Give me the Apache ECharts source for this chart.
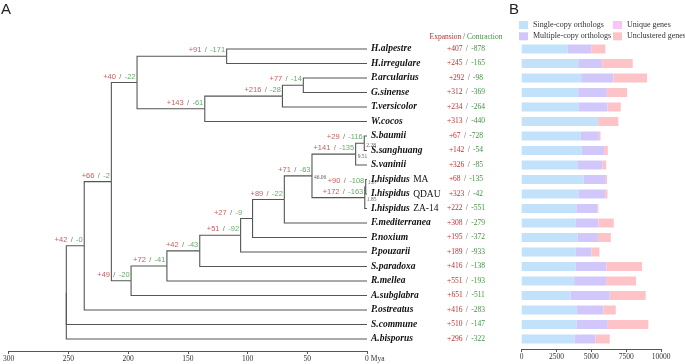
<!DOCTYPE html>
<html>
<head>
<meta charset="utf-8">
<script src="https://cdn.jsdelivr.net/npm/echarts@6/dist/echarts.min.js"></script>
<style>
  html, body { margin: 0; padding: 0; background: #fff; }
  #chart { width: 685px; height: 364px; }
</style>
</head>
<body>
<div id="chart"></div>
<script>
// species, top to bottom
const leafNames = ['H.alpestre', 'H.irregulare', 'P.arcularius', 'G.sinense', 'T.versicolor', 'W.cocos',
  'S.baumii', 'S.sanghuang', 'S.vaninii', 'I.hispidus MA', 'I.hispidus QDAU', 'I.hispidus ZA-14',
  'F.mediterranea', 'P.noxium', 'P.pouzarii', 'S.paradoxa', 'R.mellea', 'A.subglabra',
  'P.ostreatus', 'S.commune', 'A.bisporus'];

// gene family expansion / contraction per species
const expansion = [407, 245, 292, 312, 234, 313, 67, 142, 326, 68, 323, 222, 308, 195, 189, 416, 551, 651, 416, 510, 296];
const contraction = [878, 165, 98, 369, 264, 440, 728, 54, 85, 135, 42, 551, 279, 372, 933, 138, 193, 511, 283, 147, 322];

// gene counts (panel B)
const singleCopy = [3290, 4060, 4270, 4060, 4100, 5490, 4220, 4300, 3990, 4440, 4100, 3940, 3870, 4010, 3890, 3870, 3770, 3510, 3960, 3940, 3790];
const multiCopy = [1700, 1720, 2320, 2050, 2060, 0, 1320, 1620, 1810, 1600, 1890, 1500, 1640, 1460, 1120, 2220, 2290, 2810, 1910, 2240, 1510];
const uniqueGenes = [0, 0, 0, 0, 0, 0, 0, 0, 0, 0, 0, 0, 0, 0, 0, 0, 0, 0, 0, 0, 0];
const unclustered = [1020, 2190, 2410, 1460, 950, 1450, 120, 260, 260, 90, 170, 70, 1100, 930, 570, 2550, 2150, 2580, 880, 2910, 1020];

// time tree: node age in Mya, gain/loss on the branch leading to the node, leaves = index into leafNames
const tree = { age: 251.7, kids: [
  { age: 236.7, gain: 42, loss: 0, kids: [
    { age: 214, gain: 66, loss: 2, kids: [
      { age: 192.5, gain: 40, loss: 22, kids: [
        { age: 117.5, gain: 91, loss: 171, kids: [0, 1] },
        { age: 135.8, gain: 143, loss: 61, kids: [
          { age: 70.8, gain: 216, loss: 28, kids: [
            { age: 53.3, gain: 77, loss: 14, kids: [2, 3] }, 4] },
          5] }] },
      { age: 197.5, gain: 49, loss: 20, kids: [
        { age: 167.5, gain: 72, loss: 41, kids: [
          { age: 140, gain: 42, loss: 43, kids: [
            { age: 105.8, gain: 51, loss: 92, kids: [
              { age: 95.8, gain: 27, loss: 9, nudge: -9, kids: [
                { age: 69.2, gain: 89, loss: 22, kids: [
                  { age: 46.06, gain: 71, loss: 63, showAge: true, kids: [
                    { age: 9.51, gain: 141, loss: 135, showAge: true, kids: [
                      { age: 2.28, gain: 29, loss: 116, showAge: true, kids: [6, 7] }, 8] },
                    { age: 1.85, gain: 172, loss: 163, showAge: true, kids: [
                      { age: 1.07, gain: 90, loss: 108, showAge: true, ageUp: true, kids: [9, 10] }, 11] }] },
                  12] },
                13] },
              14] },
            15] },
          16] },
        17] }] },
    18] },
  19, 20] };

const RED = '#b83232';
const GREEN = '#3d963d';
const SERIF = '"Liberation Serif", "DejaVu Serif", serif';
const SANS = '"Liberation Sans", Arial, sans-serif';

// walk the tree into segments and labels
const segs = [];
const branchLabels = [];
const ageLabels = [];
function walk(node) {
  if (typeof node === 'number') return { y: node, age: 0 };
  const ks = node.kids.map(walk);
  const y = (ks[0].y + ks[ks.length - 1].y) / 2;
  ks.forEach(k => segs.push({ coords: [[node.age, y], [node.age, k.y], [k.age, k.y]] }));
  if (node.gain !== undefined) {
    branchLabels.push({ value: [node.age, y], gain: node.gain, loss: node.loss,
      label: { offset: [-1 + (node.nudge || 0), 0.5] } });
  }
  if (node.showAge) {
    ageLabels.push({ value: [node.age, y], txt: String(node.age),
      label: { offset: [0, node.ageUp ? -4 : 2] } });
  }
  return { y: y, age: node.age };
}
walk(tree);

const chart = echarts.init(document.getElementById('chart'), null, { renderer: 'canvas' });

const TOP = 41.75, BOTTOM = 17.75;

const legendText = { fontFamily: SERIF, fontSize: 8, color: '#333', lineHeight: 8 };

const option = {
  animation: false,
  backgroundColor: '#fff',
  graphic: [
    { type: 'text', x: 1, y: 2, style: { text: 'A', font: '15px ' + SANS, fill: '#222' } },
    { type: 'text', x: 509, y: 2, style: { text: 'B', font: '15px ' + SANS, fill: '#222' } },
    { type: 'text', x: 466, y: 37, style: {
      text: '{r|Expansion} {s|/} {g|Contraction}',
      align: 'center', verticalAlign: 'middle',
      font: '7.5px ' + SERIF,
      rich: {
        r: { fill: RED, font: '7.5px ' + SERIF },
        s: { fill: '#555', font: '7.5px ' + SERIF },
        g: { fill: GREEN, font: '7.5px ' + SERIF }
      }
    } }
  ],
  legend: [
    { left: 519, top: 21, padding: 0, orient: 'vertical', itemWidth: 9, itemHeight: 8, itemGap: 3.3,
      icon: 'rect', selectedMode: false,
      data: ['Single-copy orthologs', 'Multiple-copy orthologs'], textStyle: legendText },
    { left: 613, top: 21, padding: 0, orient: 'vertical', itemWidth: 9, itemHeight: 8, itemGap: 3.3,
      icon: 'rect', selectedMode: false,
      data: ['Unique genes', 'Unclustered genes'], textStyle: legendText }
  ],
  grid: [
    { left: 7, right: 318, top: TOP, bottom: BOTTOM },
    { left: 521.7, right: 24, top: TOP, bottom: BOTTOM }
  ],
  xAxis: [
    { gridIndex: 0, type: 'value', min: 0, max: 300, interval: 50, inverse: true, offset: 4.75,
      splitLine: { show: false },
      axisLine: { show: true, onZero: false, lineStyle: { color: '#555', width: 1 } },
      axisTick: { show: true, length: 3, lineStyle: { color: '#555' } },
      axisLabel: { fontFamily: SERIF, fontSize: 7.5, color: '#333', margin: 4,
        formatter: v => v === 0 ? '{z|0 Mya}' : String(v),
        rich: { z: { fontFamily: SERIF, fontSize: 7.5, color: '#333', padding: [0, 0, 0, 15.6] } } } },
    { gridIndex: 1, type: 'value', min: 0, max: 10000, interval: 2500, offset: 2.75,
      splitLine: { show: false },
      axisLine: { show: true, onZero: false, lineStyle: { color: '#555', width: 1 } },
      axisTick: { show: true, length: 3, lineStyle: { color: '#555' } },
      axisLabel: { fontFamily: SERIF, fontSize: 7.5, color: '#333', margin: 4, formatter: v => String(v) } }
  ],
  yAxis: [
    { gridIndex: 0, type: 'value', min: -0.5, max: 20.5, inverse: true, show: false },
    { gridIndex: 0, type: 'category', data: leafNames, inverse: true, position: 'right',
      axisLine: { show: false }, axisTick: { show: false },
      axisLabel: { interval: 0, margin: 4, align: 'left',
        formatter: v => {
          const sp = v.indexOf(' ');
          return sp < 0 ? '{b|' + v + '}' : '{b|' + v.slice(0, sp) + '} {n|' + v.slice(sp + 1) + '}';
        },
        rich: {
          b: { fontFamily: SERIF, fontSize: 9.5, fontWeight: 'bold', fontStyle: 'italic', color: '#111' },
          n: { fontFamily: SERIF, fontSize: 9.5, color: '#111' }
        } } },
    { gridIndex: 1, type: 'category', data: leafNames, inverse: true,
      axisLine: { show: false }, axisTick: { show: false },
      axisLabel: { interval: 0, margin: 55.7, align: 'center',
        formatter: (v, i) => '{r|+' + expansion[i] + '} {s|/} {g|-' + contraction[i] + '}',
        rich: {
          r: { fontFamily: SERIF, fontSize: 7.5, color: RED },
          s: { fontFamily: SERIF, fontSize: 7.5, color: '#555' },
          g: { fontFamily: SERIF, fontSize: 7.5, color: GREEN }
        } } }
  ],
  series: [
    { type: 'lines', coordinateSystem: 'cartesian2d', xAxisIndex: 0, yAxisIndex: 0,
      polyline: true, silent: true, data: segs,
      lineStyle: { color: '#555', width: 1.1, opacity: 1 } },
    { type: 'scatter', xAxisIndex: 0, yAxisIndex: 0, symbolSize: 1, silent: true, z: 5,
      itemStyle: { color: 'rgba(0,0,0,0)' },
      data: branchLabels,
      label: { show: true, position: [0, 0], align: 'right', verticalAlign: 'bottom',
        formatter: p => '{r|+' + p.data.gain + '} {s|/} {g|-' + p.data.loss + '}',
        rich: {
          r: { fontFamily: SANS, fontSize: 7.5, color: RED },
          s: { fontFamily: SANS, fontSize: 7.5, color: '#555' },
          g: { fontFamily: SANS, fontSize: 7.5, color: GREEN }
        } } },
    { type: 'scatter', xAxisIndex: 0, yAxisIndex: 0, symbolSize: 1, silent: true, z: 5,
      itemStyle: { color: 'rgba(0,0,0,0)' },
      data: ageLabels,
      label: { show: true, position: 'right', distance: 1.5,
        formatter: p => p.data.txt,
        fontFamily: SERIF, fontSize: 5.5, color: '#333' } },
    { name: 'Single-copy orthologs', type: 'bar', stack: 'g', xAxisIndex: 1, yAxisIndex: 2,
      barWidth: 9, data: singleCopy, itemStyle: { color: '#c2e1fa' } },
    { name: 'Multiple-copy orthologs', type: 'bar', stack: 'g', xAxisIndex: 1, yAxisIndex: 2,
      barWidth: 9, data: multiCopy, itemStyle: { color: '#d2c7fa' } },
    { name: 'Unique genes', type: 'bar', stack: 'g', xAxisIndex: 1, yAxisIndex: 2,
      barWidth: 9, data: uniqueGenes, itemStyle: { color: '#fac5f4' } },
    { name: 'Unclustered genes', type: 'bar', stack: 'g', xAxisIndex: 1, yAxisIndex: 2,
      barWidth: 9, data: unclustered, itemStyle: { color: '#fdc3c7' } }
  ]
};

chart.setOption(option);
</script>
</body>
</html>
